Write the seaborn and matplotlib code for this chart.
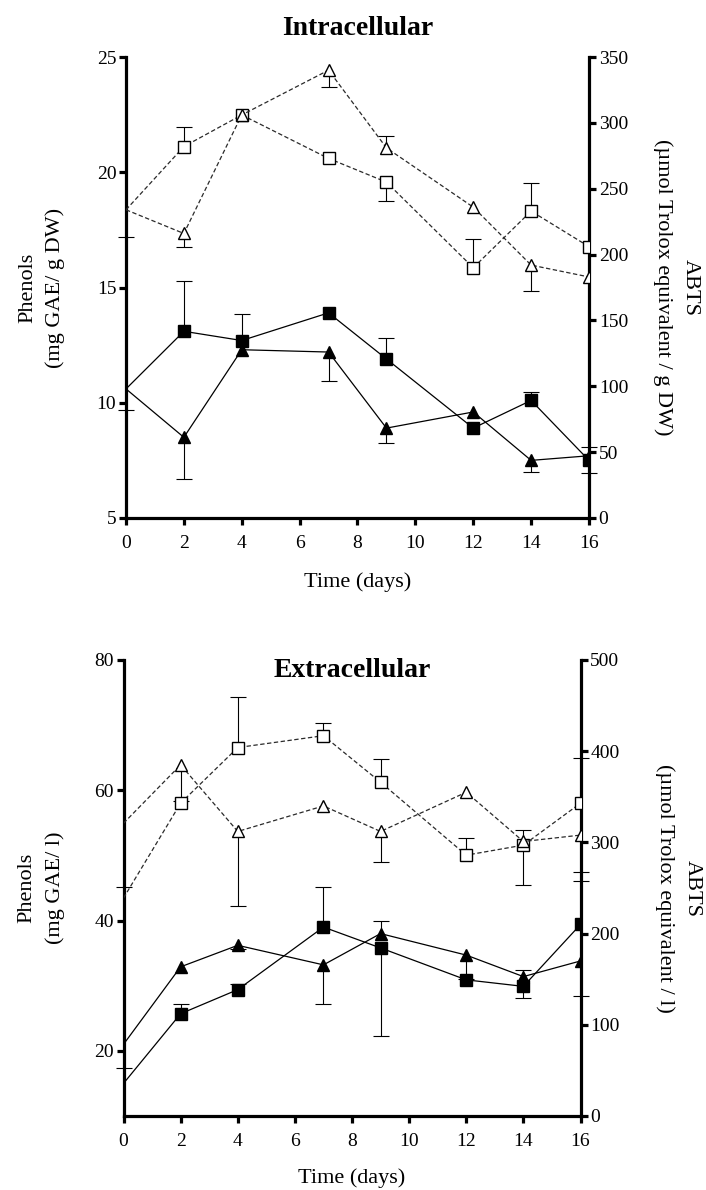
import numpy as np
import pandas as pd
import matplotlib
matplotlib.use("Agg")
import matplotlib.pyplot as plt
import seaborn as sns

# ---------------- data ----------------
days = [0, 2, 4, 7, 9, 12, 14, 16]
x_ticks = [0, 2, 4, 6, 8, 10, 12, 14, 16]

# Intracellular - phenols (left axis)
in_phen_sq = [10.6, 13.1, 12.7, 13.9, 11.9, 8.9, 10.1, 7.5]
in_phen_sq_lo = [0.9, 0, 0, 0, 0, 0, 0, 0]
in_phen_sq_hi = [0, 2.2, 1.15, 0, 0.9, 0, 0.35, 0.6]
in_phen_tri = [10.6, 8.5, 12.3, 12.2, 8.9, 9.6, 7.5, 7.7]
in_phen_tri_lo = [0, 1.8, 0, 1.25, 0.65, 0, 0.5, 0.75]
in_phen_tri_hi = [0, 0, 0, 0, 0, 0, 0, 0]
# Intracellular - ABTS (right axis)
in_abts_sq = [234, 282, 306, 273, 255, 190, 233, 206]
in_abts_sq_lo = [21, 0, 0, 0, 14, 0, 0, 0]
in_abts_sq_hi = [0, 15, 0, 0, 0, 22, 21, 0]
in_abts_tri = [234, 216, 306, 340, 281, 236, 192, 183]
in_abts_tri_lo = [0, 10, 0, 13, 0, 0, 20, 0]
in_abts_tri_hi = [0, 0, 0, 0, 9, 0, 0, 0]

# Extracellular - phenols (left axis)
ex_phen_sq = [15.0, 25.7, 29.4, 39.0, 35.8, 30.9, 29.9, 39.4]
ex_phen_sq_lo = [0, 0, 0, 0, 13.5, 0, 1.8, 0]
ex_phen_sq_hi = [2.3, 1.5, 0.8, 6.2, 0, 0, 0, 6.7]
ex_phen_tri = [21.0, 32.9, 36.2, 33.2, 38.0, 34.7, 31.4, 33.8]
ex_phen_tri_lo = [0, 0, 0.5, 6.0, 0, 3.7, 0, 5.4]
ex_phen_tri_hi = [0, 0, 0, 0, 2.0, 0, 1.0, 0]
# Extracellular - ABTS (right axis)
ex_abts_sq = [239, 343, 404, 417, 366, 286, 297, 343]
ex_abts_sq_lo = [0, 0, 0, 0, 0, 0, 44, 0]
ex_abts_sq_hi = [12, 0, 55, 14, 25, 19, 0, 49]
ex_abts_tri = [321, 385, 312, 340, 312, 355, 301, 308]
ex_abts_tri_lo = [0, 40, 82, 0, 33, 0, 0, 40]
ex_abts_tri_hi = [0, 0, 0, 0, 0, 0, 13, 0]

# ---------------- style ----------------
sns.set_style("ticks")
plt.rcParams["font.family"] = ["Liberation Serif", "DejaVu Serif"]
plt.rcParams["text.color"] = "black"
plt.rcParams["axes.labelcolor"] = "black"
plt.rcParams["axes.edgecolor"] = "black"
plt.rcParams["xtick.color"] = "black"
plt.rcParams["ytick.color"] = "black"

SPINE_W = 2.3
TICK_FS = 14
LABEL_FS = 16
TITLE_FS = 20

fig = plt.figure(figsize=(7.06, 11.9), dpi=100)


def err(ax, x, y, lo, hi, z):
    x = np.asarray(x, float)
    y = np.asarray(y, float)
    for e, side in ((np.asarray(lo, float), "lo"), (np.asarray(hi, float), "hi")):
        m = e > 0
        if not m.any():
            continue
        z0 = np.zeros(m.sum())
        yerr = np.vstack([e[m], z0]) if side == "lo" else np.vstack([z0, e[m]])
        cont = ax.errorbar(x[m], y[m], yerr=yerr, fmt="none", ecolor="black",
                           elinewidth=0.8, capsize=6, capthick=0.8,
                           clip_on=False, zorder=z)
        for cl in cont.lines[1]:
            if np.allclose(cl.get_ydata(), y[m]):
                cl.remove()


def series(ax, y, lo, hi, marker, filled, ms):
    err(ax, days, y, lo, hi, 2)
    df = pd.DataFrame({"day": days, "val": y})
    sns.lineplot(data=df, x="day", y="val", ax=ax, color="black" if filled else "#2a2a2a",
                 linestyle="-" if filled else (0, (3.5, 2)),
                 linewidth=0.9, marker=marker, markersize=ms,
                 mfc="black" if filled else "white", mec="black", mew=1.0,
                 markevery=list(range(1, len(days))), errorbar=None, zorder=3)


def panel(rect, title, title_y, phen, abts, ylim_l, yt_l, ylim_r, yt_r,
          ylab_l, ylab_r, lx, rx, xlab_y):
    ax = fig.add_axes(rect)
    ax2 = ax.twinx()
    (psq, psq_lo, psq_hi, ptr, ptr_lo, ptr_hi) = phen
    (asq, asq_lo, asq_hi, atr, atr_lo, atr_hi) = abts
    series(ax, psq, psq_lo, psq_hi, "s", True, 8)
    series(ax, ptr, ptr_lo, ptr_hi, "^", True, 9)
    series(ax2, asq, asq_lo, asq_hi, "s", False, 8)
    series(ax2, atr, atr_lo, atr_hi, "^", False, 9)

    ax.set_xlim(0, 16)
    ax.set_xticks(x_ticks)
    ax.set_ylim(*ylim_l)
    ax.set_yticks(yt_l)
    ax2.set_ylim(*ylim_r)
    ax2.set_yticks(yt_r)

    for s in ("top", "right"):
        ax.spines[s].set_visible(False)
    for s in ("top", "left", "bottom"):
        ax2.spines[s].set_visible(False)
    for s in ("left", "bottom"):
        ax.spines[s].set_linewidth(SPINE_W)
        ax.spines[s].set_color("black")
    ax2.spines["right"].set_linewidth(SPINE_W)
    ax2.spines["right"].set_color("black")

    ax.tick_params(axis="both", direction="out", length=5, width=SPINE_W,
                   labelsize=TICK_FS, pad=2, color="black", labelcolor="black")
    ax.tick_params(axis="x", pad=7)
    ax2.tick_params(axis="y", direction="out", length=5, width=SPINE_W,
                    labelsize=TICK_FS, pad=2, color="black", labelcolor="black")

    ax.set_xlabel("Time (days)", fontsize=LABEL_FS, va="top", color="black")
    ax.xaxis.set_label_coords(0.5, xlab_y)
    ax.set_ylabel(ylab_l, fontsize=LABEL_FS, rotation=90, ha="center",
                  va="center", linespacing=1.55, color="black")
    ax.yaxis.set_label_coords(lx, 0.5)
    ax2.set_ylabel(ylab_r, fontsize=LABEL_FS, rotation=270, ha="center",
                   va="center", linespacing=1.55, color="black")
    ax2.yaxis.set_label_coords(rx, 0.5)

    ax.set_title(title, fontsize=TITLE_FS, fontweight="bold", y=title_y,
                 va="baseline", pad=0, color="black")
    ax.set_zorder(1)
    ax2.set_zorder(2)
    ax.patch.set_visible(False)
    ax2.patch.set_visible(False)
    return ax, ax2


panel([126 / 706, 1 - 518 / 1190, 463 / 706, 461 / 1190],
      "Intracellular", 1.048,
      (in_phen_sq, in_phen_sq_lo, in_phen_sq_hi, in_phen_tri, in_phen_tri_lo, in_phen_tri_hi),
      (in_abts_sq, in_abts_sq_lo, in_abts_sq_hi, in_abts_tri, in_abts_tri_lo, in_abts_tri_hi),
      (5, 25), [5, 10, 15, 20, 25], (0, 350), [0, 50, 100, 150, 200, 250, 300, 350],
      "Phenols\n(mg GAE/ g DW)", "ABTS\n(\u00b5mol Trolox equivalent / g DW)",
      -0.182, 1.188, -0.118)

panel([123.5 / 706, 1 - 1116 / 1190, 457 / 706, 456 / 1190],
      "Extracellular", 0.963,
      (ex_phen_sq, ex_phen_sq_lo, ex_phen_sq_hi, ex_phen_tri, ex_phen_tri_lo, ex_phen_tri_hi),
      (ex_abts_sq, ex_abts_sq_lo, ex_abts_sq_hi, ex_abts_tri, ex_abts_tri_lo, ex_abts_tri_hi),
      (10, 80), [20, 40, 60, 80], (0, 500), [0, 100, 200, 300, 400, 500],
      "Phenols\n(mg GAE/ l)", "ABTS\n(\u00b5mol Trolox equivalent / l)",
      -0.18, 1.215, -0.114)

fig.savefig("out.png", dpi=100)
